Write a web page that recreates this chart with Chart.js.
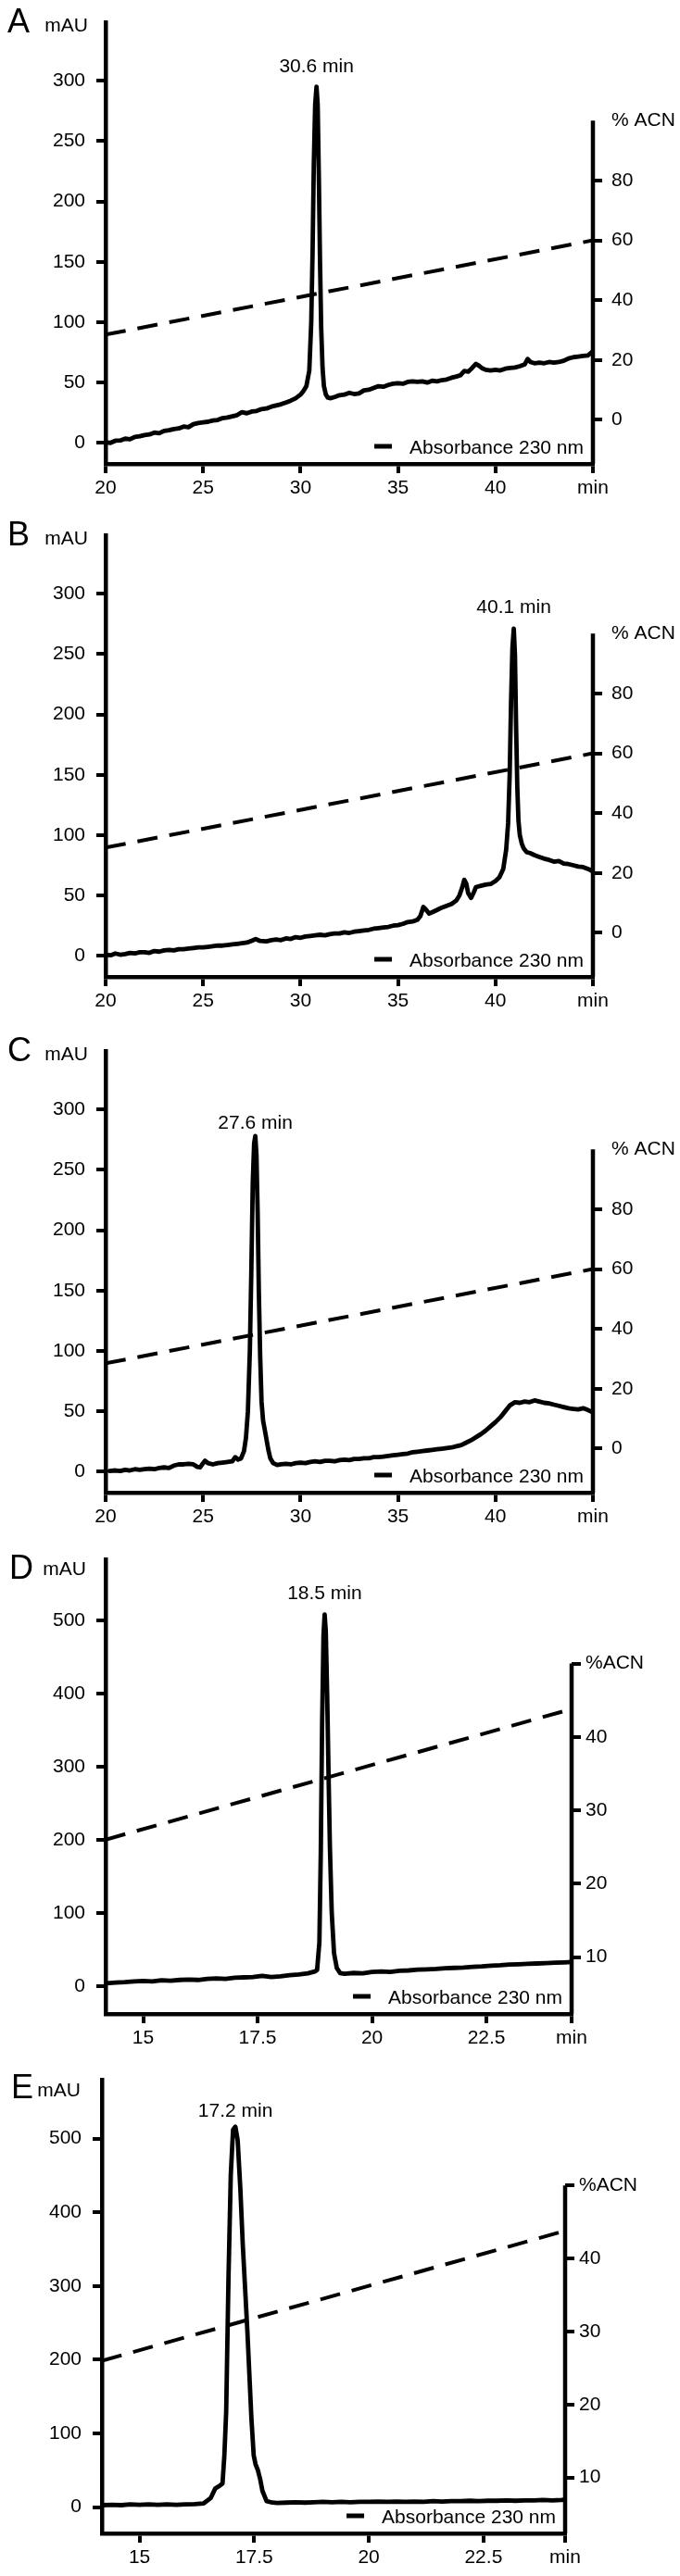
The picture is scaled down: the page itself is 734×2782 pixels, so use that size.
<!DOCTYPE html>
<html>
<head>
<meta charset="utf-8">
<script src="https://cdn.jsdelivr.net/npm/chart.js@4.4.1/dist/chart.umd.min.js"></script>
<style>
  body { margin: 0; background: #fff; }
  #wrap { position: relative; width: 734px; height: 2782px; }
  #wrap canvas { position: absolute; left: 0; }
</style>
</head>
<body>
<div id="wrap">
  <canvas id="chartA" width="734" height="550" style="top:0px"></canvas>
  <canvas id="chartB" width="734" height="550" style="top:554px"></canvas>
  <canvas id="chartC" width="734" height="550" style="top:1111px"></canvas>
  <canvas id="chartD" width="734" height="575" style="top:1650px"></canvas>
  <canvas id="chartE" width="734" height="582" style="top:2200px"></canvas>
</div>
<script>
// chromatogram traces (min / mAU)
const timeA = [20, 20.25, 20.5, 20.75, 21, 21.25, 21.5, 21.75, 22, 22.25, 22.5, 22.75, 23, 23.25, 23.5, 23.75, 24, 24.25, 24.5, 24.75, 25, 25.25, 25.5, 25.75, 26, 26.25, 26.5, 26.75, 27, 27.25, 27.5, 27.75, 28, 28.25, 28.5, 28.75, 29, 29.25, 29.5, 29.75, 30,
  30.15, 30.3, 30.45, 30.55, 30.62, 30.68, 30.75, 30.82, 30.88, 30.94, 31, 31.06, 31.13, 31.2, 31.3, 31.4, 31.55, 31.75,
  32, 32.25, 32.5, 32.75, 33, 33.25, 33.5, 33.75, 34, 34.25, 34.5, 34.75, 35, 35.25, 35.5, 35.75, 36, 36.25, 36.5, 36.75, 37, 37.25, 37.5, 37.75, 38,
  38.2, 38.4, 38.6, 38.8, 39, 39.15, 39.3, 39.5, 39.75,
  40, 40.25, 40.5, 40.75, 41, 41.25, 41.5, 41.65, 41.8,
  42, 42.25, 42.5, 42.75, 43, 43.25, 43.5, 43.75, 44, 44.25, 44.5, 44.75, 45];
const absA = [0.5, 0, 1.8, 2, 3.5, 3, 5, 5.5, 6.5, 7, 8.5, 8, 10, 10.5, 11.5, 12, 13.5, 13, 15.5, 16.5, 17, 17.5, 18.5, 19, 20.5, 21, 22, 23, 25.5, 24.5, 26, 26.5, 28, 28.5, 30, 31, 32, 33.5, 35, 37, 40,
  43, 47, 60, 100, 160, 230, 280, 295, 280, 220, 150, 95, 62, 47, 40, 37.5, 37, 38,
  39.5, 40, 41.5, 40.5, 41, 43.5, 44, 45.5, 47, 46.5, 48, 49, 49.5, 49, 50.5, 51, 50.5, 51, 50, 51.5, 51, 52, 52.5, 54, 55,
  56, 59.5, 59, 62, 65.5, 64, 62, 60.5, 60,
  60.5, 60, 61.5, 62, 62.5, 63.5, 65, 69.5, 67,
  66, 66.5, 66, 67, 66.5, 67, 68, 70, 71, 71.5, 72, 72.5, 76];

const timeB = [20, 20.25, 20.5, 20.75, 21, 21.25, 21.5, 21.75, 22, 22.25, 22.5, 22.75, 23, 23.25, 23.5, 23.75, 24, 24.25, 24.5, 24.75, 25, 25.25, 25.5, 25.75, 26, 26.25, 26.5, 26.75, 27, 27.25, 27.5,
  27.7, 27.9,
  28.25, 28.5, 28.75, 29, 29.25, 29.5, 29.75, 30, 30.25, 30.5, 30.75, 31, 31.25, 31.5, 31.75, 32, 32.25, 32.5, 32.75, 33, 33.25, 33.5, 33.75, 34, 34.25, 34.5, 34.75, 35, 35.25, 35.5, 35.75, 36,
  36.15, 36.3, 36.45, 36.6, 36.8,
  37, 37.25, 37.5, 37.75, 38,
  38.15, 38.3, 38.4, 38.5, 38.6, 38.75, 38.9,
  39, 39.25, 39.5, 39.75, 40,
  40.2, 40.4, 40.55, 40.65, 40.73, 40.8, 40.87, 40.94, 41, 41.06, 41.12, 41.18, 41.25, 41.35, 41.45, 41.6, 41.8,
  42, 42.25, 42.5, 42.75, 43, 43.25, 43.5, 43.75, 44, 44.25, 44.5, 44.75, 45];
const absB = [1, 0.5, 2, 1, 1.5, 2.5, 2, 3, 3, 2.5, 4, 3.5, 4.5, 5, 4.5, 5.5, 5.5, 6, 6.5, 7, 7, 7.5, 8, 8.5, 8.5, 9, 9.5, 10, 10.5, 11, 12.5,
  14, 12.5,
  12, 13, 13.5, 13, 14.5, 14, 15.5, 15, 16, 16.5, 17, 17.5, 17, 18, 18.5, 18.5, 19.5, 19, 20, 20.5, 21, 21.5, 22.5, 23, 23.5, 24, 25, 25.5, 26.5, 28, 28.5, 30,
  33, 40.5, 38, 35, 36.5,
  38, 40, 41.5, 43, 46,
  50, 57, 63, 60, 52, 48, 53,
  57, 58, 59, 59.5, 62,
  65, 72, 88, 110, 150, 210, 255, 271, 250, 190, 140, 112, 100, 93, 89, 86, 85,
  83.5, 82, 80.5, 79.5, 78, 78.5, 76.5, 76, 75, 74, 73.5, 72, 70];

const timeC = [20.2, 20.5, 20.75, 21, 21.25, 21.5, 21.75, 22, 22.25, 22.5, 22.75, 23, 23.25, 23.5, 23.75, 24, 24.25, 24.5,
  24.7, 24.85, 25, 25.1, 25.25,
  25.5, 25.75, 26, 26.25, 26.5,
  26.65, 26.8, 26.95, 27.1, 27.2, 27.3, 27.4, 27.48, 27.55, 27.62, 27.68, 27.74, 27.8, 27.86, 27.93, 28, 28.08, 28.15, 28.25, 28.35, 28.45, 28.6, 28.8,
  29, 29.25, 29.5, 29.75, 30, 30.25, 30.5, 30.75, 31, 31.25, 31.5, 31.75, 32, 32.25, 32.5, 32.75, 33, 33.25, 33.5, 33.75,
  34, 34.25, 34.5, 34.75, 35, 35.25, 35.5, 35.75, 36, 36.25, 36.5, 36.75, 37, 37.25, 37.5, 37.75,
  38, 38.25, 38.5, 38.75, 39, 39.25, 39.5, 39.75, 40, 40.25, 40.5, 40.75, 41, 41.25, 41.5, 41.75,
  42, 42.25, 42.5, 42.75, 43, 43.25, 43.5, 43.75, 44, 44.25, 44.5, 44.75, 45];
const absC = [0.5, 1, 0.5, 1.5, 1, 2, 1.5, 2, 2.5, 2, 3, 3.5, 3, 5, 6, 6, 6.5, 6,
  4, 3.5, 7, 9, 7,
  6, 7, 7.5, 8, 8.5,
  12, 10, 11, 17, 28, 50, 100, 170, 240, 272, 278, 262, 215, 150, 95, 58, 42, 36, 27, 18, 11, 7, 5.5,
  6, 6.5, 6, 7, 7.5, 7, 8, 8.5, 8, 9, 9, 8.5, 9.5, 10, 9.5, 10.5, 10.5, 11, 11, 12,
  12, 12.5, 13, 13.5, 14, 14.5, 15, 16, 16.5, 17, 17.5, 18, 18.5, 19, 19.5, 20,
  21, 22, 24, 26, 28.5, 31, 34, 37.5, 41, 45, 50, 55, 57.5, 57, 58, 57.5,
  59, 58, 57, 56.5, 55.5, 54.5, 53.5, 52.5, 52, 51.5, 52.5, 51, 49];

const timeD = [14.2, 14.4, 14.6, 14.8, 15, 15.2, 15.4, 15.6, 15.8, 16, 16.2, 16.4, 16.6, 16.8, 17, 17.2, 17.4, 17.6, 17.8, 18, 18.2, 18.4, 18.6,
  18.75, 18.8, 18.85, 18.88, 18.91, 18.94, 18.965, 18.99, 19.02, 19.05, 19.08, 19.12, 19.17, 19.23, 19.3,
  19.4, 19.6, 19.8, 20, 20.2, 20.4, 20.6, 20.8, 21, 21.2, 21.4, 21.6, 21.8, 22, 22.2, 22.4, 22.6, 22.8, 23, 23.2, 23.4, 23.6, 23.8, 24, 24.2, 24.36];
const absD = [4, 5, 5.5, 6.5, 7, 6.5, 8, 7.5, 8.5, 9, 8.5, 10, 10.5, 10, 11.5, 12, 12.5, 14, 12.5, 13.5, 15, 16, 17.5,
  20, 22, 60, 180, 360, 480, 508, 485, 400, 290, 190, 100, 45, 25, 18,
  17, 18, 17.5, 19.5, 20, 19.5, 21, 21.5, 22.5, 23, 23.5, 24.5, 25, 25.5, 26.5, 27, 28, 28.5, 29.5, 30, 30.5, 31, 31.5, 32, 32.5, 33];

const timeE = [14.2, 14.4, 14.6, 14.8, 15, 15.2, 15.4, 15.6, 15.8, 16, 16.2,
  16.4, 16.55, 16.65, 16.75, 16.81, 16.85, 16.89, 16.94, 16.99, 17.04, 17.09, 17.14, 17.2, 17.25, 17.35, 17.44, 17.49, 17.53, 17.58, 17.63, 17.68, 17.77, 17.9,
  18, 18.2, 18.4, 18.6, 18.8, 19, 19.2, 19.4, 19.6, 19.8, 20, 20.2, 20.4, 20.6, 20.8, 21, 21.2, 21.4, 21.6, 21.8, 22, 22.2, 22.4, 22.6, 22.8, 23, 23.2, 23.4, 23.6, 23.8, 24, 24.2, 24.28];
const absE = [2.5, 3, 2.5, 3.5, 3, 3.5, 3, 3.5, 3, 3.5, 4,
  5, 12, 25, 29, 32, 70, 130, 311, 451, 512, 516, 498, 430, 358, 241, 120, 70, 58, 50, 38, 22, 8, 6,
  5.5, 6, 6.5, 6, 6.5, 7, 6.5, 7, 6.5, 7, 7, 7.5, 7, 7.5, 7, 7.5, 7, 8, 7.5, 8, 8, 8.5, 8, 8.5, 8.5, 9, 8.5, 9, 9, 9.5, 9, 9.5, 10];

// acetonitrile gradient (% ACN)
const acnTimeAC = [20, 45];
const acnAC = [28.5, 60];
const acnTimeD = [14.18, 24.36];
const acnTimeE = [14.18, 24.28];
const acnDE = [26, 43.8];

// tick values and labels
const xTicksAC = [20, 25, 30, 35, 40, 45];
const xLabelsAC = ['20', '25', '30', '35', '40', 'min'];
const xTicksD = [15, 17.5, 20, 22.5, 24.36];
const xTicksE = [15, 17.5, 20, 22.5, 24.28];
const xLabelsDE = ['15', '17.5', '20', '22.5', 'min'];
const yTicksAC = [0, 50, 100, 150, 200, 250, 300];
const yTicksDE = [0, 100, 200, 300, 400, 500];
const acnTicksAC = [0, 20, 40, 60, 80, 100];
const acnLabelsAC = ['0', '20', '40', '60', '80', '% ACN'];
const acnTicksDE = [10, 20, 30, 40, 50];
const acnLabelsDE = ['10', '20', '30', '40', '%ACN'];

const FONT = '"Liberation Sans", Arial, Helvetica, sans-serif';
Chart.defaults.font.family = FONT;
Chart.defaults.font.size = 21;
Chart.defaults.color = '#000';

// letters, units, peak label, legend and the short right axis
const panelText = {
  id: 'panelText',
  afterDraw(chart, args, o) {
    const { ctx, chartArea: a, scales } = chart;
    ctx.save();
    ctx.fillStyle = '#000';
    ctx.strokeStyle = '#000';

    ctx.lineWidth = 4.5;
    ctx.beginPath();
    ctx.moveTo(a.right, scales.y2.getPixelForValue(o.acnTop));
    ctx.lineTo(a.right, a.bottom);
    ctx.stroke();

    ctx.textBaseline = 'alphabetic';
    ctx.textAlign = 'left';
    ctx.font = '36px ' + FONT;
    ctx.fillText(o.letter, o.letterPos[0], o.letterPos[1]);

    ctx.font = '21px ' + FONT;
    ctx.textAlign = 'right';
    ctx.fillText('mAU', o.unitPos[0], o.unitPos[1]);

    const pts = chart.data.datasets[0].data;
    let pk = pts[0];
    pts.forEach(p => { if (p.y > pk.y) pk = p; });
    ctx.textAlign = 'center';
    ctx.fillText(o.peakText, scales.x.getPixelForValue(pk.x),
      scales.y.getPixelForValue(pk.y) - o.peakGap + 7.5);

    const lx = a.right - 10, ly = a.bottom - 19;
    ctx.textAlign = 'right';
    ctx.fillText('Absorbance 230 nm', lx, ly + 7.5);
    const w = ctx.measureText('Absorbance 230 nm').width;
    ctx.fillRect(lx - w - 38, ly - 2.5, 19, 5);
    ctx.restore();
  }
};

function axisLine(extra) {
  return Object.assign({
    grid: { drawOnChartArea: false, drawTicks: true, tickLength: 10, lineWidth: 4, color: '#000' },
    border: { display: true, width: 4.5, color: '#000' }
  }, extra);
}

function makePanel(p) {
  const canvas = document.getElementById(p.id);
  const H = canvas.height;
  return new Chart(canvas, {
    type: 'line',
    data: {
      datasets: [
        {
          data: p.time.map((t, i) => ({ x: t, y: p.abs[i] })),
          borderColor: '#000', borderWidth: 4.8, pointRadius: 0, tension: 0,
          borderJoinStyle: 'round', borderCapStyle: 'round', yAxisID: 'y'
        },
        {
          data: p.acnTime.map((t, i) => ({ x: t, y: p.acn[i] })),
          borderColor: '#000', borderWidth: 4, borderDash: [22, 13], pointRadius: 0, yAxisID: 'y2'
        }
      ]
    },
    options: {
      responsive: false,
      animation: false,
      events: [],
      layout: { autoPadding: false, padding: { left: 0, right: 0, top: p.area.top, bottom: 0 } },
      plugins: {
        legend: { display: false },
        tooltip: { enabled: false },
        panelText: p.text
      },
      scales: {
        x: axisLine({
          type: 'linear', position: 'bottom', min: p.xRange[0], max: p.xRange[1],
          afterBuildTicks: s => { s.ticks = p.xTicks.map(v => ({ value: v })); },
          afterFit: s => { s.height = H - p.area.bottom; },
          ticks: { callback: (v, i) => p.xLabels[i], padding: 4, maxRotation: 0, autoSkip: false }
        }),
        y: axisLine({
          type: 'linear', position: 'left', min: p.yRange[0], max: p.yRange[1],
          afterBuildTicks: s => { s.ticks = p.yTicks.map(v => ({ value: v })); },
          afterFit: s => { s.width = p.area.left; },
          ticks: { callback: v => String(v), padding: 12, autoSkip: false }
        }),
        y2: {
          type: 'linear', position: 'right', min: p.acnRange[0], max: p.acnRange[1],
          afterBuildTicks: s => { s.ticks = p.acnTicks.map(v => ({ value: v })); },
          afterFit: s => { s.width = 734 - p.area.right; },
          ticks: { callback: (v, i) => p.acnLabels[i], padding: p.acnPad, autoSkip: false },
          grid: {
            drawOnChartArea: false, drawTicks: true, tickLength: 10, color: '#000', lineWidth: 4,
            tickWidth: c => (p.hideTopAcnTick && c.index === p.acnTicks.length - 1) ? 0 : 4
          },
          border: { display: false }
        }
      }
    },
    plugins: [panelText]
  });
}

const areaAC = { left: 114, right: 640, top: 19, bottom: 501 };

makePanel({
  id: 'chartA', time: timeA, abs: absA, acnTime: acnTimeAC, acn: acnAC,
  area: areaAC, xRange: [20, 45], yRange: [-17.4, 348], acnRange: [-14.7, 132.7],
  xTicks: xTicksAC, xLabels: xLabelsAC, yTicks: yTicksAC, acnTicks: acnTicksAC, acnLabels: acnLabelsAC,
  acnPad: 10, hideTopAcnTick: true,
  text: { letter: 'A', letterPos: [8, 35], unitPos: [95, 34], peakText: '30.6 min', peakGap: 23.5, acnTop: 100 }
});
makePanel({
  id: 'chartB', time: timeB, abs: absB, acnTime: acnTimeAC, acn: acnAC,
  area: areaAC, xRange: [20, 45], yRange: [-17.4, 348], acnRange: [-14.7, 132.7],
  xTicks: xTicksAC, xLabels: xLabelsAC, yTicks: yTicksAC, acnTicks: acnTicksAC, acnLabels: acnLabelsAC,
  acnPad: 10, hideTopAcnTick: true,
  text: { letter: 'B', letterPos: [8, 35], unitPos: [95, 34], peakText: '40.1 min', peakGap: 24, acnTop: 100 }
});
makePanel({
  id: 'chartC', time: timeC, abs: absC, acnTime: acnTimeAC, acn: acnAC,
  area: areaAC, xRange: [20, 45], yRange: [-17.4, 348], acnRange: [-14.7, 132.7],
  xTicks: xTicksAC, xLabels: xLabelsAC, yTicks: yTicksAC, acnTicks: acnTicksAC, acnLabels: acnLabelsAC,
  acnPad: 10, hideTopAcnTick: true,
  text: { letter: 'C', letterPos: [8, 35], unitPos: [95, 34], peakText: '27.6 min', peakGap: 15, acnTop: 100 }
});
makePanel({
  id: 'chartD', time: timeD, abs: absD, acnTime: acnTimeD, acn: acnDE,
  area: { left: 114, right: 617, top: 34, bottom: 525 }, xRange: [14.18, 24.36], yRange: [-38, 583.5], acnRange: [2.24, 64.2],
  xTicks: xTicksD, xLabels: xLabelsDE, yTicks: yTicksDE, acnTicks: acnTicksDE, acnLabels: acnLabelsDE,
  acnPad: 5, hideTopAcnTick: false,
  text: { letter: 'D', letterPos: [10, 55], unitPos: [93, 51], peakText: '18.5 min', peakGap: 24, acnTop: 50 }
});
makePanel({
  id: 'chartE', time: timeE, abs: absE, acnTime: acnTimeE, acn: acnDE,
  area: { left: 110, right: 610, top: 46, bottom: 536 }, xRange: [14.18, 24.28], yRange: [-35.8, 579.8], acnRange: [2.35, 64.5],
  xTicks: xTicksE, xLabels: xLabelsDE, yTicks: yTicksDE, acnTicks: acnTicksDE, acnLabels: acnLabelsDE,
  acnPad: 5, hideTopAcnTick: false,
  text: { letter: 'E', letterPos: [12, 66], unitPos: [87, 64], peakText: '17.2 min', peakGap: 18.5, acnTop: 50 }
});
</script>
</body>
</html>
